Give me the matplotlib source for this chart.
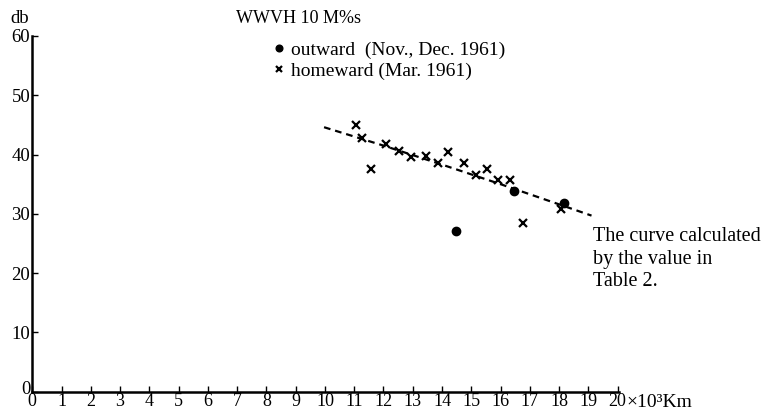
import matplotlib.pyplot as plt
import matplotlib.transforms as mtransforms
import numpy as np

# homeward (Mar. 1961) crosses
home_x = [11.07, 11.26, 11.56, 12.07, 12.53, 12.95, 13.44, 13.85, 14.22, 14.74,
          15.16, 15.53, 15.93, 16.33, 16.76, 18.07]
home_y = [44.9, 42.7, 37.6, 41.8, 40.6, 39.6, 39.7, 38.6, 40.5, 38.6,
          36.5, 37.6, 35.7, 35.7, 28.5, 30.8]

# outward (Nov., Dec. 1961) dots
out_x = [14.49, 16.46, 18.16]
out_y = [27.1, 33.8, 31.8]

# calculated curve (Table 2)
calc_x = [9.97, 12.0, 14.0, 16.0, 18.0, 19.11]
calc_y = [44.6, 41.5, 38.3, 35.0, 31.6, 29.7]

xticks = list(range(0, 21))
yticks = [0, 10, 20, 30, 40, 50, 60]

plt.rcParams['font.family'] = ['Liberation Serif', 'DejaVu Serif']

fig = plt.figure(figsize=(7.73, 4.12), dpi=100)
ax = fig.add_axes([0.0418, 0.049, 0.759, 0.864])

ax.plot(calc_x, calc_y, color='black', linestyle=(0, (3, 2.2)), linewidth=1.6)
ax.plot(home_x, home_y, 'x', color='black', markersize=6, markeredgewidth=1.6,
        label='homeward (Mar. 1961)')
ax.plot(out_x, out_y, 'o', color='black', markersize=6, label='outward  (Nov., Dec. 1961)')

ax.set_xlim(0, 20.05)
ax.set_ylim(0, 60)
ax.set_xticks(xticks)
ax.set_yticks(yticks)
ax.tick_params(direction='in', length=4, width=1, labelsize=13.5, pad=1.5)
ax.tick_params(axis='x', labelsize=13, pad=1)
for s in ['top', 'right']:
    ax.spines[s].set_visible(False)
ax.spines['left'].set_linewidth(1.8)
ax.spines['bottom'].set_linewidth(1.8)

# lift the "0" of the y axis a little, as in the original
ylab0 = ax.get_yticklabels()[0]
ylab0.set_transform(ylab0.get_transform() +
                    mtransforms.ScaledTranslation(0, 4 / 100, fig.dpi_scale_trans))

h, l = ax.get_legend_handles_labels()
leg = ax.legend(h[::-1], l[::-1], loc='upper left', bbox_to_anchor=(0.397, 1.006),
                frameon=False, fontsize=14, handlelength=0.6, handletextpad=0.3,
                labelspacing=0.15, markerscale=0.8, borderaxespad=0)

fig.text(0.305, 0.955, 'WWVH 10 M%s', fontsize=13, ha='left', va='center')
fig.text(0.013, 0.955, 'db', fontsize=13.5, ha='left', va='center')
fig.text(0.811, 0.022, '×10³Km', fontsize=14, ha='left', va='center')
fig.text(0.767, 0.371, 'The curve calculated\nby the value in\nTable 2.', fontsize=14.5,
         ha='left', va='center', linespacing=1.25)

fig.savefig('out.png', dpi=100)
